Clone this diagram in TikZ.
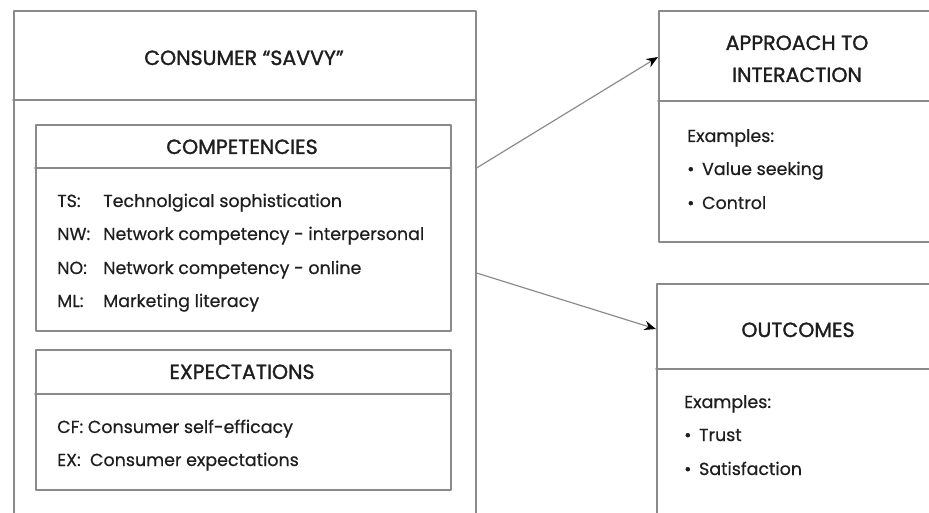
\documentclass[tikz,border=0pt]{standalone}
\usepackage{fontspec}
\setmainfont{Poppins}[FakeBold=0.6]
\newfontfamily\cabecera{Poppins}[FakeBold=1.4]
\usetikzlibrary{calc,arrows.meta}
\definecolor{linea}{HTML}{8A8A8A}
\definecolor{tinta}{HTML}{1E1E1E}
\tikzset{
  caja/.style={draw=linea, line width=1.3pt, rectangle, anchor=north west, inner sep=0pt},
  titulo/.style={anchor=base, text=tinta, inner sep=0pt, font=\cabecera\fontsize{17.5}{20}\selectfont},
  renglon/.style={anchor=base west, text=tinta, inner sep=0pt, font=\fontsize{14.9}{17}\selectfont},
  flecha/.style={draw=linea, line width=1pt, -{Stealth[length=10pt, width=8pt, color=black]}}
}
\newcommand{\punto}{\textbullet\hspace{0.23cm}}
\begin{document}
\begin{tikzpicture}[x=0.03cm, y=-0.03cm, line cap=round, line join=round]
  \useasboundingbox (0,0) rectangle (929,513);
  \clip (0,0) rectangle (929,513);
  % la caja grande del consumidor, cortada por abajo
  \node[caja, minimum width=13.86cm, minimum height=16.5cm] (savvy) at (13,10) {};
  \draw[linea, line width=1.3pt] ($(savvy.north west)+(0,90)$) -- ($(savvy.north east)+(0,90)$);
  \node[titulo] (savvyt) at (244,65) {CONSUMER “SAVVY”};
  % competencias
  \node[caja, minimum width=12.45cm, minimum height=6.18cm] (comp) at (35,124) {};
  \draw[linea, line width=1.3pt] ($(comp.north west)+(0,44)$) -- ($(comp.north east)+(0,44)$);
  \node[titulo] (compt) at (242,154) {COMPETENCIES};
  \node[renglon] (ts) at (57,207) {\makebox[1.38cm][l]{TS:}Technolgical sophistication};
  \node[renglon] (nw) at (57,240) {\makebox[1.38cm][l]{NW:}Network competency - interpersonal};
  \node[renglon] (no) at (57,274) {\makebox[1.38cm][l]{NO:}Network competency - online};
  \node[renglon] (ml) at (57,307) {\makebox[1.38cm][l]{ML:}Marketing literacy};
  % expectativas
  \node[caja, minimum width=12.45cm, minimum height=4.2cm] (expec) at (35,349) {};
  \draw[linea, line width=1.3pt] ($(expec.north west)+(0,45)$) -- ($(expec.north east)+(0,45)$);
  \node[titulo] (expect) at (242,379) {EXPECTATIONS};
  \node[renglon] (cf) at (57,433) {CF: Consumer self-efficacy};
  \node[renglon] (ex) at (57,466) {EX:\ \ Consumer expectations};
  % el enfoque de la interaccion, cortado a la derecha
  \node[caja, minimum width=9cm, minimum height=6.93cm] (approach) at (658,10) {};
  \draw[linea, line width=1.3pt] ($(approach.north west)+(0,91)$) -- ($(approach.north east)+(0,91)$);
  \node[titulo] (approacht) at (797,50) {APPROACH TO};
  \node[titulo] (approachu) at (797,82) {INTERACTION};
  \node[renglon] (aex) at (687,142) {Examples:};
  \node[renglon] (avs) at (687,175) {\punto Value seeking};
  \node[renglon] (aco) at (687,209) {\punto Control};
  % los resultados, cortados abajo y a la derecha
  \node[caja, minimum width=9cm, minimum height=7.8cm] (outcomes) at (656,283) {};
  \draw[linea, line width=1.3pt] ($(outcomes.north west)+(0,86)$) -- ($(outcomes.north east)+(0,86)$);
  \node[titulo] (outcomest) at (798,337) {OUTCOMES};
  \node[renglon] (oex) at (684,408) {Examples:};
  \node[renglon] (otr) at (684,441) {\punto Trust};
  \node[renglon] (osa) at (684,475) {\punto Satisfaction};
  % las flechas
  \draw[flecha] ($(savvy.north east)+(0,158)$) -- ($(approach.north west)+(0,47)$);
  \draw[flecha] ($(savvy.north east)+(0,263)$) -- ($(outcomes.north west)+(0,46)$);
\end{tikzpicture}
\end{document}
